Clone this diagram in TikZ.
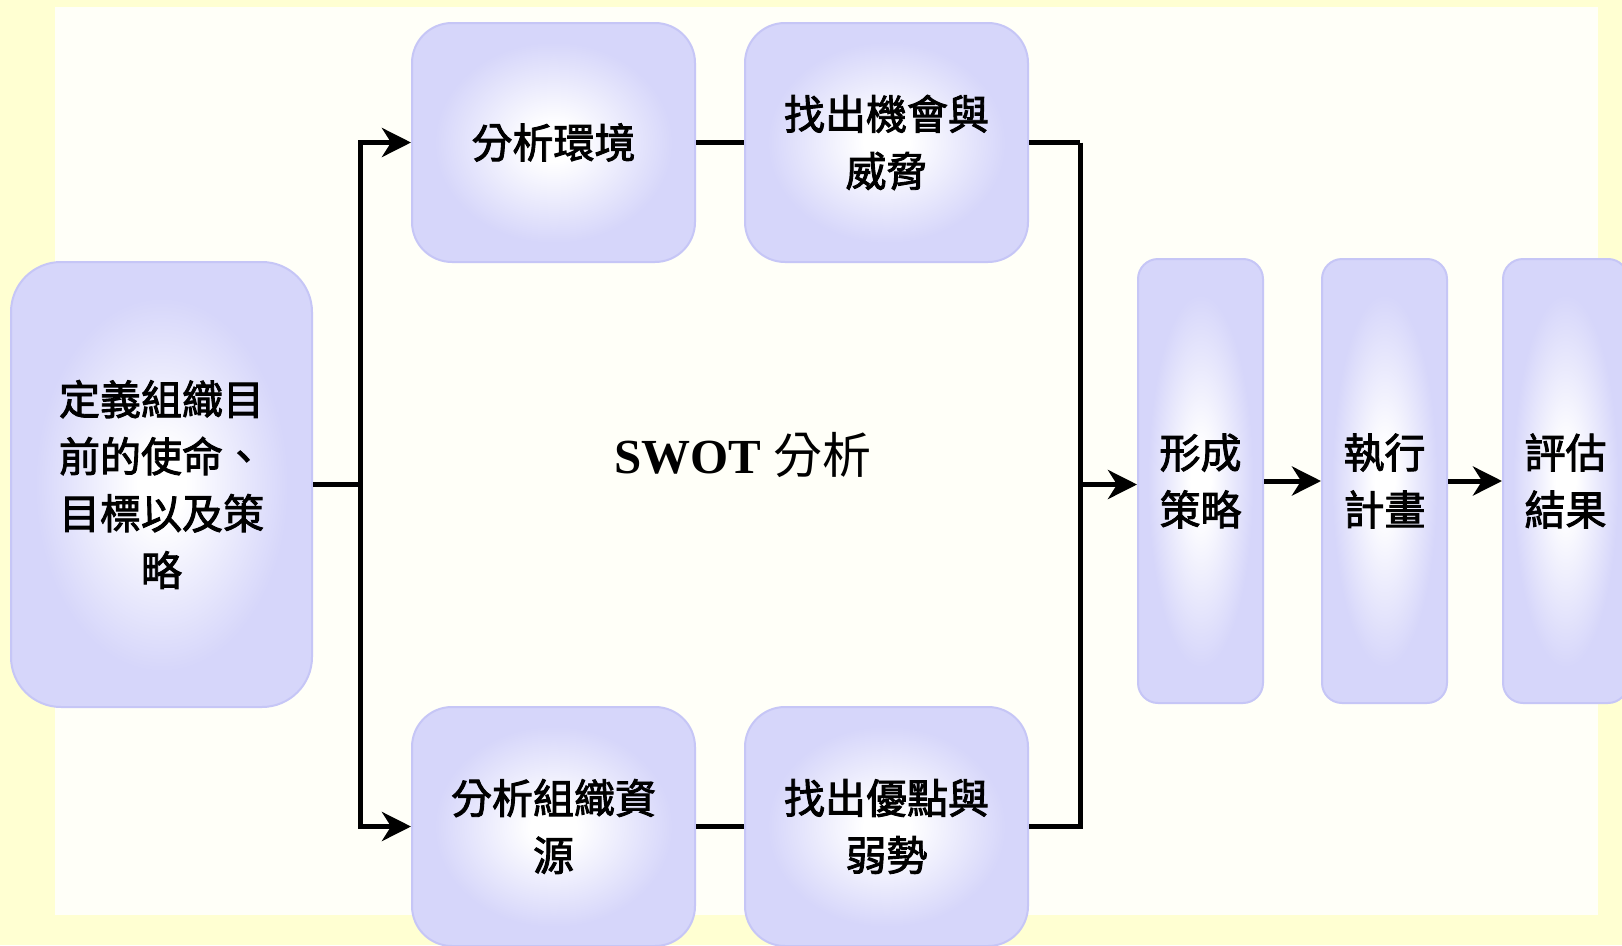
\documentclass[tikz,border=0pt]{standalone}
\usepackage{fontspec}
\setmainfont{Liberation Serif}
\newfontfamily\cjk{Noto Sans CJK TC}
\newfontfamily\cjkm[FakeBold=2.2]{Noto Sans CJK TC}
\newfontfamily\swotbf{Liberation Serif Bold}
\usetikzlibrary{arrows.meta}
\definecolor{outerbg}{HTML}{FFFFD2}
\definecolor{innerbg}{HTML}{FFFFF8}
\definecolor{boxlav}{HTML}{D6D6FA}
\definecolor{boxedge}{HTML}{C6C6F6}
\pgfdeclareradialshading{boxglow}{\pgfpoint{0bp}{0bp}}{color(0bp)=(white); color(4bp)=(white); color(21bp)=(boxlav); color(50bp)=(boxlav)}
\begin{document}
\begin{tikzpicture}[x=1pt,y=-1pt,
  box/.style={draw=boxedge, line width=2pt, shade, shading=boxglow, rounded corners=#1,
    inner sep=0pt, align=center, font=\cjkm\fontsize{41}{57}\selectfont},
  conn/.style={line width=5pt, black},
  arr/.style={conn, -{Stealth[length=29pt, width=29pt, inset=9pt]}}]
\useasboundingbox (0,0) rectangle (1622,945);
\fill[outerbg] (0,0) rectangle (1622,945);
\fill[innerbg] (55,7) rectangle (1598,915);

\node[box=50pt, minimum width=301pt, minimum height=445pt] (goal) at (161.5,484.5)
  {定義組織目\\前的使命、\\目標以及策\\略};
\node[box=40pt, minimum width=283pt, minimum height=239pt] (env) at (553.5,142.5) {分析環境};
\node[box=40pt, minimum width=283pt, minimum height=239pt] (threat) at (886.5,142.5) {找出機會與\\威脅};
\node[box=40pt, minimum width=283pt, minimum height=239pt] (res) at (553.5,826.5) {分析組織資\\源};
\node[box=40pt, minimum width=283pt, minimum height=239pt] (weak) at (886.5,826.5) {找出優點與\\弱勢};
\node[box=20pt, minimum width=125pt, minimum height=444pt] (form) at (1200.5,481) {形成\\策略};
\node[box=20pt, minimum width=125pt, minimum height=444pt] (exec) at (1384.5,481) {執行\\計畫};
\node[box=20pt, minimum width=125pt, minimum height=444pt] (eval) at (1565.5,481) {評估\\結果};

\node (swot) at (743,455) {\fontsize{49}{49}\selectfont{\swotbf SWOT} {\cjk 分析}};

\draw[conn] (goal.east) -- ++(47,0) coordinate (jl);
\draw[arr] (jl) |- (env.west);
\draw[arr] (jl) |- (res.west);
\draw[conn] (env.east) -- (threat.west);
\draw[conn] (res.east) -- (weak.west);
\draw[conn] (threat.east) -- ++(51,0) coordinate (jr);
\draw[conn] (jr) |- (weak.east);
\draw[arr] (jr |- goal.east) -- (jr |- goal.east -| form.west);
\draw[arr] (form.east) -- (exec.west);
\draw[arr] (exec.east) -- (eval.west);
\end{tikzpicture}
\end{document}
